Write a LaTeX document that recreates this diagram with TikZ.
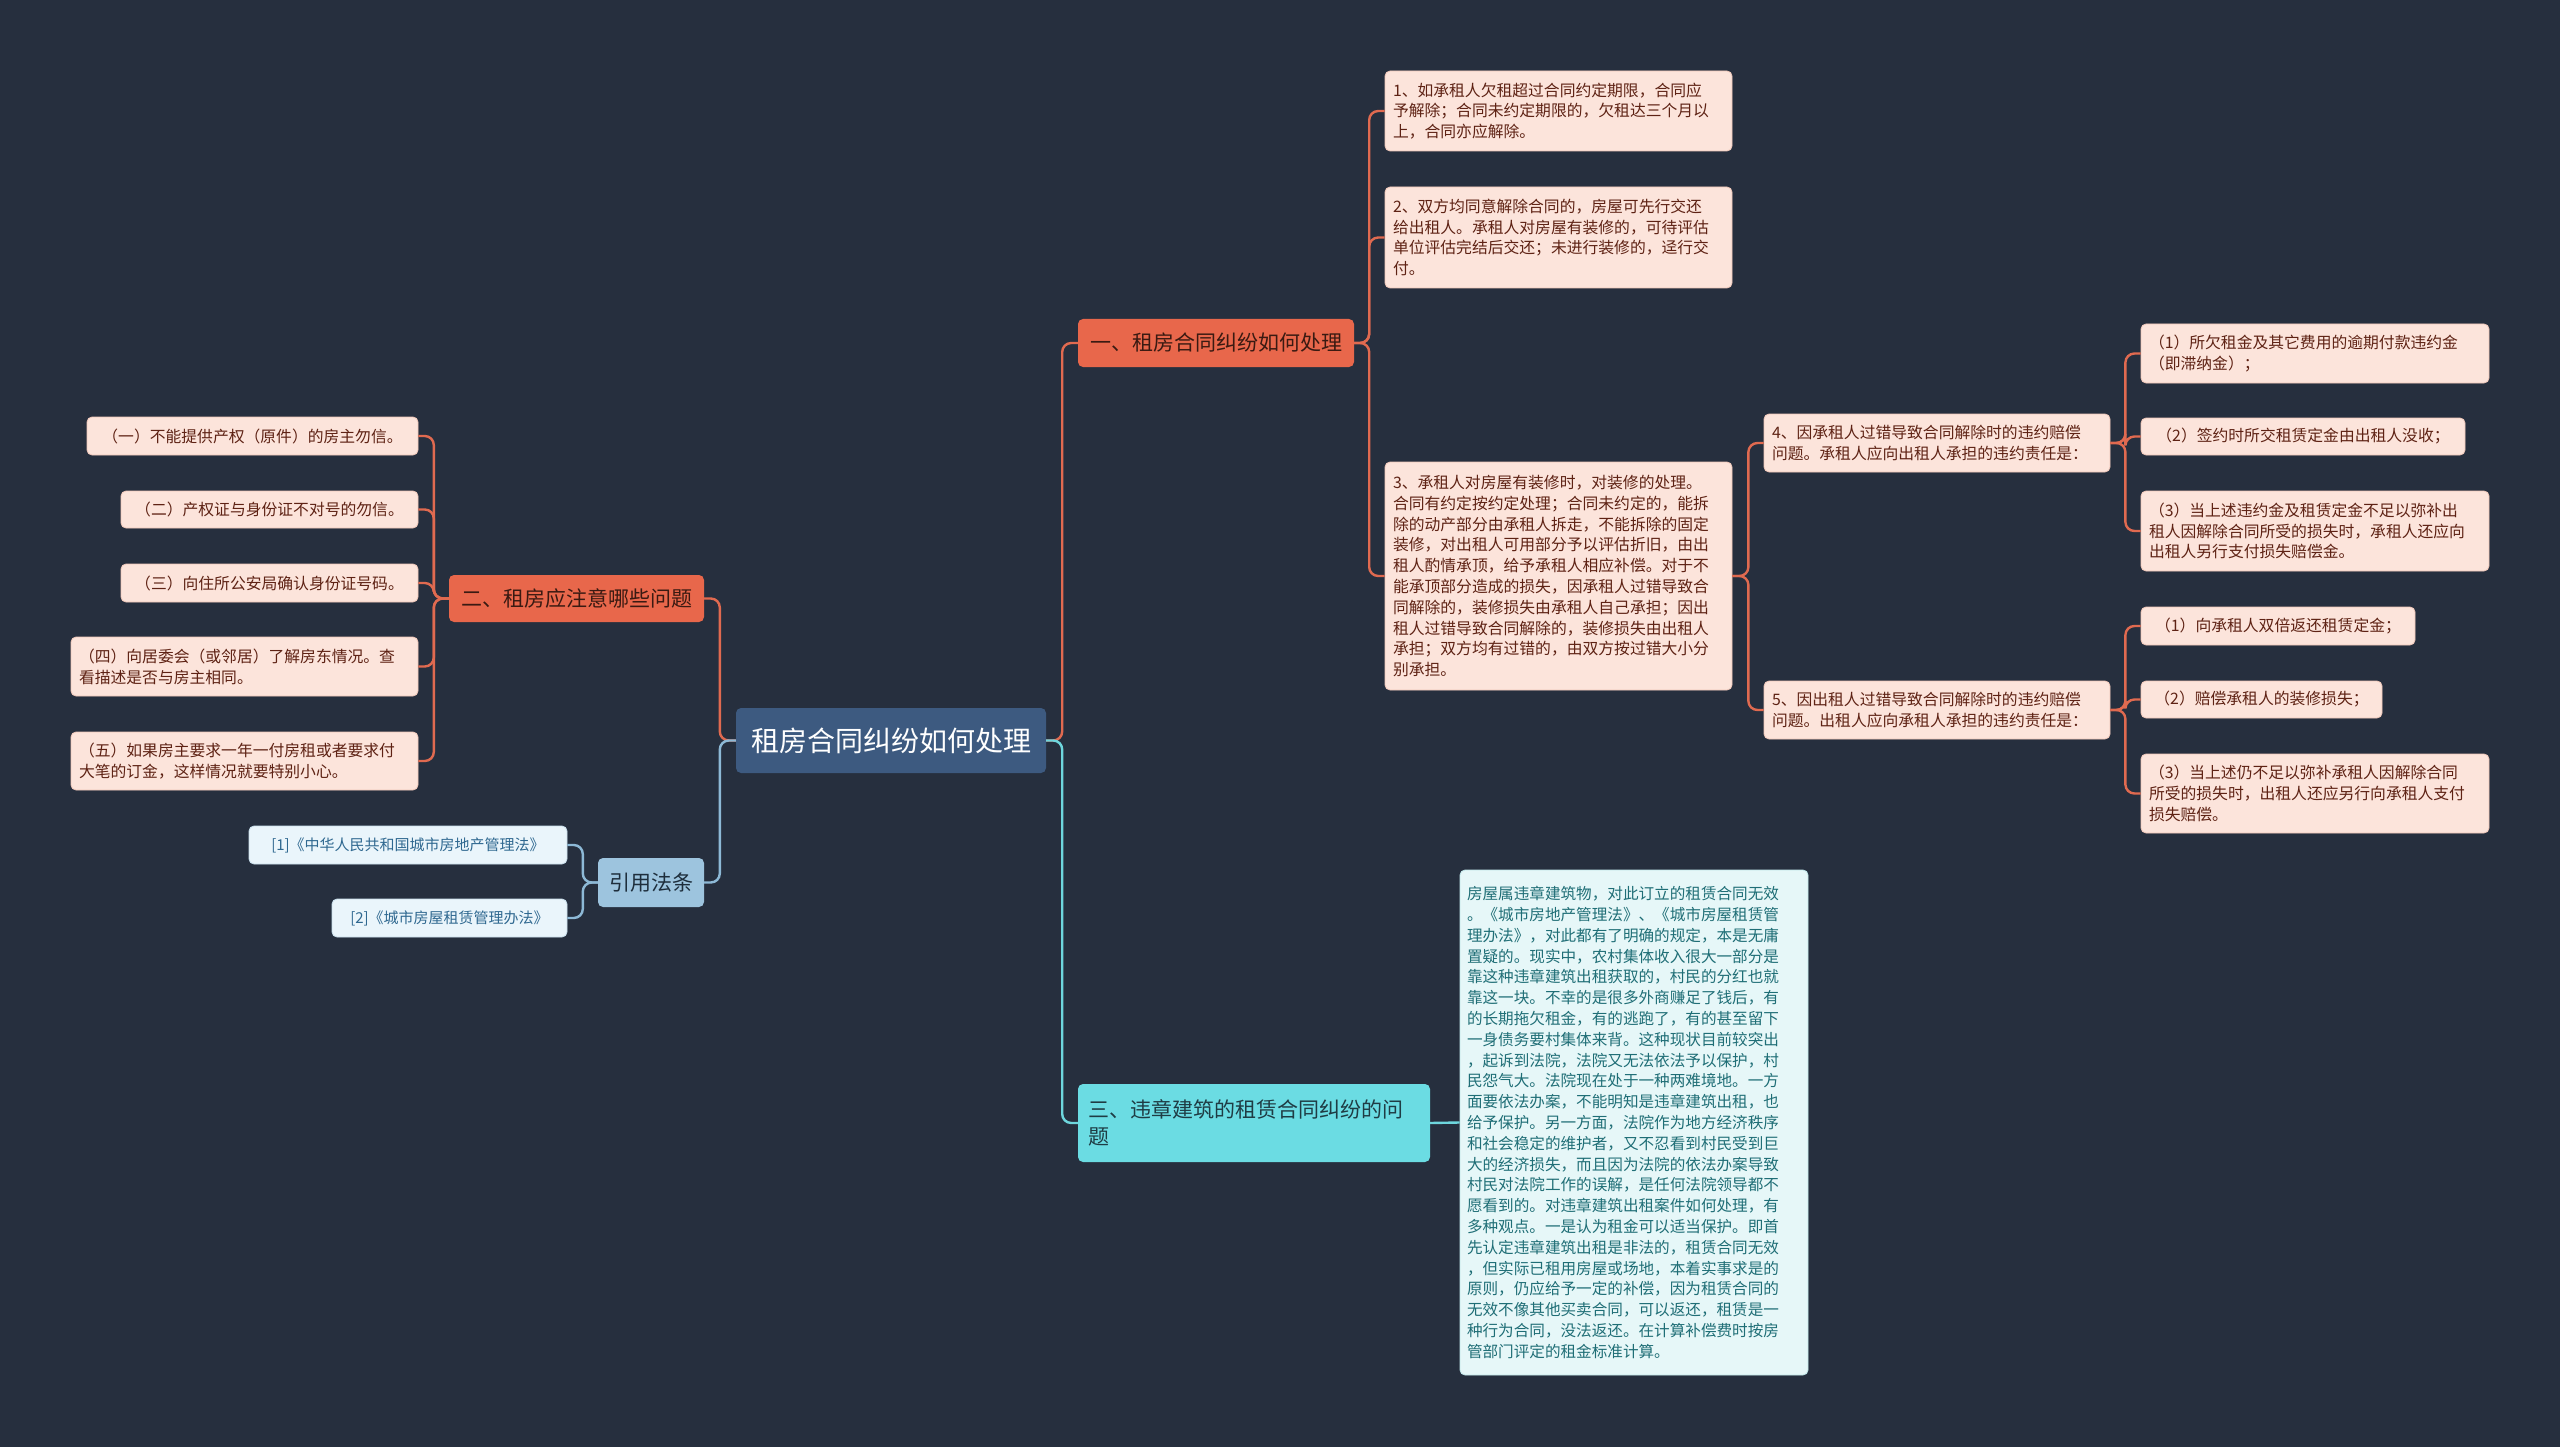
\documentclass[tikz,border=0pt]{standalone}
\usepackage{fontspec}
\setmainfont{Noto Sans CJK SC}
\definecolor{bg}{HTML}{262F3E}
\definecolor{centralFill}{HTML}{3D5A80}
\definecolor{brOrange}{HTML}{E8674B}
\definecolor{brOrangeText}{HTML}{3A1A12}
\definecolor{orLine}{HTML}{E06A50}
\definecolor{leafFill}{HTML}{FCE4DB}
\definecolor{leafText}{HTML}{5E2214}
\definecolor{leafEdge}{HTML}{EEC6B8}
\definecolor{cyanFill}{HTML}{6BDCE3}
\definecolor{cyanLine}{HTML}{6ED6DD}
\definecolor{cyanText}{HTML}{1F3C44}
\definecolor{botFill}{HTML}{E6F7F8}
\definecolor{botText}{HTML}{1F6E76}
\definecolor{botEdge}{HTML}{BFE6E8}
\definecolor{bluFill}{HTML}{9DC4DE}
\definecolor{bluLine}{HTML}{8DB9D6}
\definecolor{bluText}{HTML}{1E2E3C}
\definecolor{refFill}{HTML}{EAF5FB}
\definecolor{refText}{HTML}{2F6890}
\definecolor{refEdge}{HTML}{C9DFEC}
\begin{document}
\begin{tikzpicture}[x=1pt,y=-1pt,
  box/.style={rounded corners=5pt, inner xsep=8pt, inner ysep=0pt, align=left, anchor=center},
  leaf/.style={box, fill=leafFill, draw=leafEdge, line width=0.8pt, text=leafText, font=\fontsize{15.8}{20.8}\selectfont},
  bot/.style={box, inner xsep=7pt, fill=botFill, draw=botEdge, line width=0.8pt, text=botText, font=\fontsize{15.6}{20.8}\selectfont},
  refleaf/.style={box, fill=refFill, draw=refEdge, line width=0.8pt, text=refText, font=\fontsize{15}{20}\selectfont},
  centralbox/.style={box, fill=centralFill, text=white, font=\fontsize{28}{34}\selectfont},
  orbranch/.style={box, fill=brOrange, text=brOrangeText, font=\fontsize{21}{27}\selectfont},
  cybranch/.style={box, inner xsep=10pt, fill=cyanFill, text=cyanText, font=\fontsize{21}{27}\selectfont},
  blbranch/.style={box, fill=bluFill, text=bluText, font=\fontsize{21}{27}\selectfont},
  conn/.style={line width=2.4pt, rounded corners=9pt},
  orconn/.style={conn, draw=orLine},
  cyconn/.style={conn, draw=cyanLine},
  blconn/.style={conn, draw=bluLine}
]
\fill[bg] (0,0) rectangle (2560,1447);
\useasboundingbox (0,0) rectangle (2560,1447);

% central and branches
\node[centralbox, minimum width=310pt, minimum height=65pt] (c) at (891,740.5) {租房合同纠纷如何处理};
\node[orbranch, minimum width=276pt, minimum height=48pt] (b1) at (1216,343) {一、租房合同纠纷如何处理};
\node[orbranch, minimum width=255pt, minimum height=47pt] (b2) at (576.5,598.5) {二、租房应注意哪些问题};
\node[cybranch, text width=332pt, minimum height=78pt] (b3) at (1254,1123) {三、违章建筑的租赁合同纠纷的问\\题};
\node[blbranch, minimum width=106pt, minimum height=49pt] (b4) at (651,882.5) {引用法条};

% branch 1 leaves
\node[leaf, text width=331pt, minimum height=80pt] (n1) at (1558.5,111) {1、如承租人欠租超过合同约定期限，合同应\\予解除；合同未约定期限的，欠租达三个月以\\上，合同亦应解除。};
\node[leaf, text width=331pt, minimum height=101pt] (n2) at (1558.5,237.5) {2、双方均同意解除合同的，房屋可先行交还\\给出租人。承租人对房屋有装修的，可待评估\\单位评估完结后交还；未进行装修的，迳行交\\付。};
\node[leaf, text width=331pt, minimum height=228pt] (n3) at (1558.5,576) {3、承租人对房屋有装修时，对装修的处理。\\合同有约定按约定处理；合同未约定的，能拆\\除的动产部分由承租人拆走，不能拆除的固定\\装修，对出租人可用部分予以评估折旧，由出\\租人酌情承顶，给予承租人相应补偿。对于不\\能承顶部分造成的损失，因承租人过错导致合\\同解除的，装修损失由承租人自己承担；因出\\租人过错导致合同解除的，装修损失由出租人\\承担；双方均有过错的，由双方按过错大小分\\别承担。};
\node[leaf, text width=330pt, minimum height=58pt] (n4) at (1937,443) {4、因承租人过错导致合同解除时的违约赔偿\\问题。承租人应向出租人承担的违约责任是：};
\node[leaf, text width=330pt, minimum height=58pt] (n5) at (1937,710) {5、因出租人过错导致合同解除时的违约赔偿\\问题。出租人应向承租人承担的违约责任是：};
\node[leaf, text width=332pt, minimum height=59pt] (n41) at (2315,353.5) {（1）所欠租金及其它费用的逾期付款违约金\\（即滞纳金）；};
\node[leaf, minimum width=324pt, minimum height=37pt] (n42) at (2303,436.5) {（2）签约时所交租赁定金由出租人没收；};
\node[leaf, text width=332pt, minimum height=80pt] (n43) at (2315,531) {（3）当上述违约金及租赁定金不足以弥补出\\租人因解除合同所受的损失时，承租人还应向\\出租人另行支付损失赔偿金。};
\node[leaf, minimum width=274pt, minimum height=38pt] (n51) at (2278,626) {（1）向承租人双倍返还租赁定金；};
\node[leaf, minimum width=241pt, minimum height=37pt] (n52) at (2261.5,699.5) {（2）赔偿承租人的装修损失；};
\node[leaf, text width=332pt, minimum height=79pt] (n53) at (2315,793.5) {（3）当上述仍不足以弥补承租人因解除合同\\所受的损失时，出租人还应另行向承租人支付\\损失赔偿。};

% branch 2 leaves
\node[leaf, minimum width=331pt, minimum height=38pt] (l1) at (252.5,436) {（一）不能提供产权（原件）的房主勿信。};
\node[leaf, minimum width=297pt, minimum height=37pt] (l2) at (269.5,509.5) {（二）产权证与身份证不对号的勿信。};
\node[leaf, minimum width=297pt, minimum height=38pt] (l3) at (269.5,583) {（三）向住所公安局确认身份证号码。};
\node[leaf, text width=331pt, minimum height=59pt] (l4) at (244.5,666.5) {（四）向居委会（或邻居）了解房东情况。查\\看描述是否与房主相同。};
\node[leaf, text width=331pt, minimum height=58pt] (l5) at (244.5,761) {（五）如果房主要求一年一付房租或者要求付\\大笔的订金，这样情况就要特别小心。};

% references
\node[refleaf, minimum width=318pt, minimum height=38pt] (r1) at (408,845) {[1]《中华人民共和国城市房地产管理法》};
\node[refleaf, minimum width=235pt, minimum height=38pt] (r2) at (449.5,918) {[2]《城市房屋租赁管理办法》};

% branch 3 leaf
\node[bot, text width=334pt, minimum height=505pt] (bt) at (1634,1122.5) {房屋属违章建筑物，对此订立的租赁合同无效\\。《城市房地产管理法》、《城市房屋租赁管\\理办法》，对此都有了明确的规定，本是无庸\\置疑的。现实中，农村集体收入很大一部分是\\靠这种违章建筑出租获取的，村民的分红也就\\靠这一块。不幸的是很多外商赚足了钱后，有\\的长期拖欠租金，有的逃跑了，有的甚至留下\\一身债务要村集体来背。这种现状目前较突出\\，起诉到法院，法院又无法依法予以保护，村\\民怨气大。法院现在处于一种两难境地。一方\\面要依法办案，不能明知是违章建筑出租，也\\给予保护。另一方面，法院作为地方经济秩序\\和社会稳定的维护者，又不忍看到村民受到巨\\大的经济损失，而且因为法院的依法办案导致\\村民对法院工作的误解，是任何法院领导都不\\愿看到的。对违章建筑出租案件如何处理，有\\多种观点。一是认为租金可以适当保护。即首\\先认定违章建筑出租是非法的，租赁合同无效\\，但实际已租用房屋或场地，本着实事求是的\\原则，仍应给予一定的补偿，因为租赁合同的\\无效不像其他买卖合同，可以返还，租赁是一\\种行为合同，没法返还。在计算补偿费时按房\\管部门评定的租金标准计算。};

% connectors
\begin{scope}[on background layer/.style={}]
\end{scope}
\draw[orconn] (c.east) -- ++(16,0) |- (b1.west);
\draw[cyconn] (c.east) -- ++(16,0) |- (b3.west);
\draw[orconn] (c.west) -- ++(-16,0) |- (b2.east);
\draw[blconn] (c.west) -- ++(-16,0) |- (b4.east);

\foreach \t in {n1,n2,n3} \draw[orconn] (b1.east) -- ++(15,0) |- (\t.west);
\foreach \t in {n4,n5} \draw[orconn] (n3.east) -- ++(16,0) |- (\t.west);
\foreach \t in {n41,n42,n43} \draw[orconn] (n4.east) -- ++(15,0) |- (\t.west);
\foreach \t in {n51,n52,n53} \draw[orconn] (n5.east) -- ++(15,0) |- (\t.west);
\foreach \t in {l1,l2,l3,l4,l5} \draw[orconn] (b2.west) -- ++(-15,0) |- (\t.east);
\foreach \t in {r1,r2} \draw[blconn] (b4.west) -- ++(-15,0) |- (\t.east);
\draw[cyconn] (b3.east) -- (bt.west);
\end{tikzpicture}
\end{document}
